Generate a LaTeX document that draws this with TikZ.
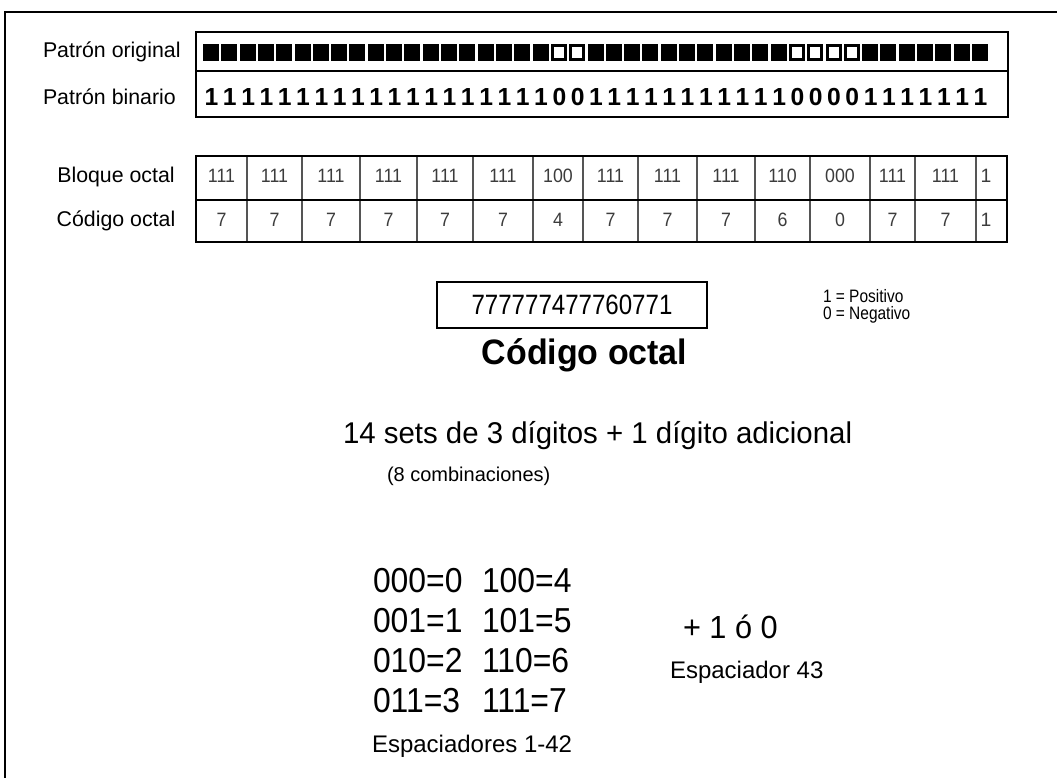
\documentclass[tikz,border=0pt]{standalone}
\usepackage{graphicx}
\usepackage{fontspec}
\setmainfont{Liberation Sans}
\newcommand\fsz[1]{\fontsize{#1}{#1}\selectfont}
\newcommand\cond[2]{\scalebox{#1}[1]{#2}}
\definecolor{celltxt}{HTML}{3C3C3C}
\definecolor{cellline}{HTML}{555555}
\begin{document}
\begin{tikzpicture}[x=0.75pt,y=-0.75pt,
  every node/.style={inner sep=0pt,outer sep=0pt},
  lbl/.style={font=\fsz{16}},
  bitdig/.style={font=\bfseries\fsz{18.5},anchor=base},
  celltext/.style={font=\fsz{14.5},text=celltxt,anchor=base},
  thick box/.style={line width=2.2pt},
  combo/.style={font=\fsz{26},anchor=base west},
  spacer/.style={font=\fsz{18},anchor=base west}]
\useasboundingbox (0,0) rectangle (1057,778);
\fill[white] (0,0) rectangle (1057,778);
% outer frame (only left and top visible)
\draw[line width=1.2pt] (5,778) -- (5,12) -- (1057,12);

% ---- pattern box
\draw[thick box] (196,32) rectangle (1008,117);
\draw[thick box] (196,71) -- (1008,71);
\foreach \b [count=\i from 0] in {1,1,1,1,1,1,1,1,1,1,1,1,1,1,1,1,1,1,1,0,0,1,1,1,1,1,1,1,1,1,1,1,0,0,0,0,1,1,1,1,1,1,1}{
  \pgfmathsetmacro\xl{203+\i*18.31}
  \fill[black] (\xl,44) rectangle ({\xl+16},61);
  \ifnum\b=0 \fill[white] ({\xl+3},47) rectangle ({\xl+13},58); \fi
  \node[bitdig] (bit\i) at ({\xl+8.5},105) {\b};
}
\node[lbl,anchor=base west] (porig) at (43,57) {Patrón original};
\node[lbl,anchor=base west] (pbin) at (43,104) {Patrón binario};

% ---- octal table
\foreach \xa/\xb/\top/\bot [count=\i] in {196/247/111/7,247/302/111/7,302/360/111/7,360/417/111/7,417/473/111/7,473/533/111/7,533/583/100/4,583/638/111/7,638/697/111/7,697/755/111/7,755/810/110/6,810/870/000/0,870/915/111/7,915/976/111/7}{
  \draw[cellline,line width=0.8pt] (\xb,156) -- (\xb,242);
  \node[celltext] (blk\i) at ({(\xa+\xb)/2},182) {\cond{0.92}{\top}};
  \node[celltext] (oct\i) at ({(\xa+\xb)/2},226) {\cond{0.92}{\bot}};
}
\node[celltext] (blk15) at (986,182) {1};
\node[celltext] (oct15) at (986,226) {1};
\draw[thick box] (196,156) rectangle (1007,242);
\draw[thick box] (196,200) -- (1007,200);
\node[lbl,anchor=base] (bloque) at (116,182) {Bloque octal};
\node[lbl,anchor=base] (codigo) at (116,226) {Código octal};

% ---- code box
\node[draw,line width=2pt,minimum width=202.5pt,minimum height=34.5pt,font=\fsz{21}] (code) at (572,305) {\cond{0.86}{777777477760771}};
\node[font=\fsz{13.5},anchor=base west] (pos) at (823,302) {\cond{0.86}{1 = Positivo}};
\node[font=\fsz{13.5},anchor=base west] (neg) at (823,319) {\cond{0.86}{0 = Negativo}};

\node[font=\bfseries\fsz{26.5},anchor=base] (title) at (584.5,364) {\cond{0.96}{Código octal}};
\node[font=\fsz{22.5},anchor=base west] (sets) at (343,443) {\cond{0.98}{14 sets de 3 dígitos + 1 dígito adicional}};
\node[font=\fsz{15},anchor=base west] (comb) at (387,481) {(8 combinaciones)};

% ---- combinations
\foreach \a/\b/\yy [count=\i] in {000=0/100=4/592,001=1/101=5/632,010=2/110=6/672,011=3/111=7/712}{
  \node[combo] (ca\i) at (373,\yy) {\cond{0.92}{\a}};
  \node[combo] (cb\i) at (482,\yy) {\cond{0.92}{\b}};
}
\node[spacer] (esp1) at (372,752) {Espaciadores 1-42};
\node[font=\fsz{24},anchor=base west] (plus) at (683,638) {\cond{0.96}{+ 1 ó 0}};
\node[spacer] (esp43) at (670,678) {Espaciador 43};
\end{tikzpicture}
\end{document}
